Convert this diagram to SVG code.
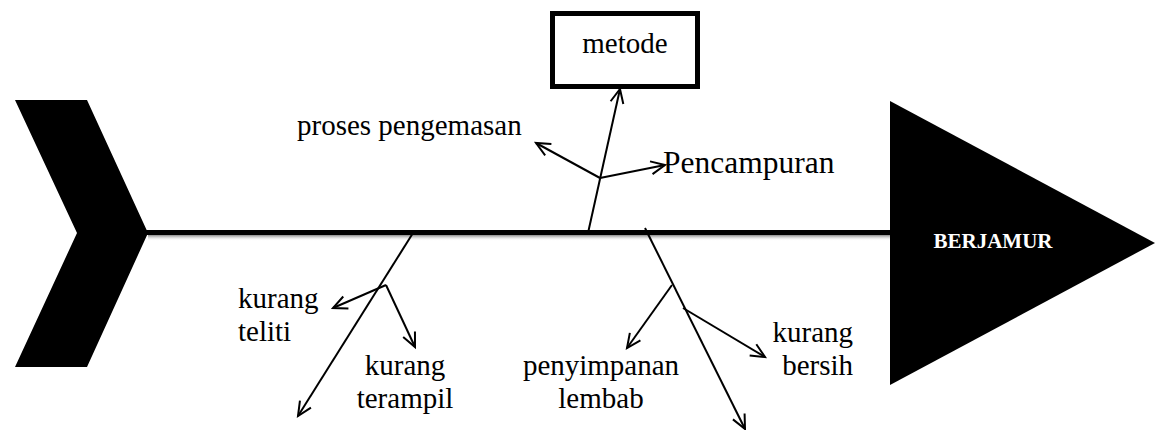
<svg xmlns="http://www.w3.org/2000/svg" width="1162" height="430" viewBox="0 0 1162 430">
  <style>
    .conn { stroke: #000; stroke-width: 2; fill: none; marker-end: url(#open); }
    .head { fill: #000; }
  </style>
  <defs>
    <marker id="open" markerUnits="userSpaceOnUse" markerWidth="20" markerHeight="20" viewBox="-16 -10 20 20" refX="0" refY="0" orient="auto">
      <path d="M -14 -6.5 L 0 0 L -14 6.5" fill="none" stroke="#000" stroke-width="2" stroke-linejoin="miter"/>
    </marker>
    <linearGradient id="shade" x1="0" y1="0" x2="0" y2="1">
      <stop offset="0" stop-color="#888"/>
      <stop offset="1" stop-color="#fff" stop-opacity="0"/>
    </linearGradient>
  </defs>

  <!-- spine (fish backbone) -->
  <g id="spine">
    <rect x="148" y="235" width="742" height="6" fill="url(#shade)"/>
    <line x1="145" y1="232.5" x2="892" y2="232.5" stroke="#000" stroke-width="5"/>
  </g>

  <!-- tail -->
  <g id="tail">
    <polygon class="head" points="15,100 87,100 148,233 87,367 15,367 77,233"/>
  </g>

  <!-- head: effect -->
  <g id="effect">
    <polygon class="head" points="890,101 1155,243 890,385"/>
    <text x="993" y="248" text-anchor="middle" font-family="'Liberation Serif', 'Times New Roman', serif" font-weight="bold" font-size="21" fill="#fff">BERJAMUR</text>
  </g>

  <g font-family="'Liberation Serif', 'Times New Roman', serif" font-size="29" fill="#000">
    <!-- category box -->
    <g id="metode">
      <rect x="552.5" y="13.5" width="145" height="73" fill="#fff" stroke="#000" stroke-width="5"/>
      <text x="625" y="53" text-anchor="middle">metode</text>
    </g>

    <g id="proses-pengemasan">
      <text x="297" y="135">proses pengemasan</text>
    </g>
    <g id="pencampuran">
      <text x="663" y="173" font-size="31.5">Pencampuran</text>
    </g>
    <g id="kurang-teliti">
      <text x="238" y="308">kurang</text>
      <text x="238" y="341">teliti</text>
    </g>
    <g id="kurang-terampil">
      <text x="405" y="375" text-anchor="middle">kurang</text>
      <text x="405" y="408" text-anchor="middle">terampil</text>
    </g>
    <g id="penyimpanan-lembab">
      <text x="601" y="375" text-anchor="middle">penyimpanan</text>
      <text x="601" y="408" text-anchor="middle">lembab</text>
    </g>
    <g id="kurang-bersih">
      <text x="853" y="342" text-anchor="end">kurang</text>
      <text x="853" y="375" text-anchor="end">bersih</text>
    </g>
  </g>

  <!-- connectors -->
  <g id="connectors">
    <line class="conn" x1="588" y1="233" x2="620" y2="89"/>
    <line class="conn" x1="600" y1="178" x2="536" y2="143"/>
    <line class="conn" x1="600" y1="178" x2="665" y2="165"/>

    <line class="conn" x1="413" y1="233" x2="298" y2="416"/>
    <line class="conn" x1="386" y1="285" x2="333" y2="308"/>
    <line class="conn" x1="386" y1="285" x2="415" y2="347"/>

    <line class="conn" x1="645" y1="228" x2="745" y2="429"/>
    <line class="conn" x1="672" y1="285" x2="627" y2="348"/>
    <line class="conn" x1="683" y1="308" x2="765" y2="357"/>
  </g>
</svg>
